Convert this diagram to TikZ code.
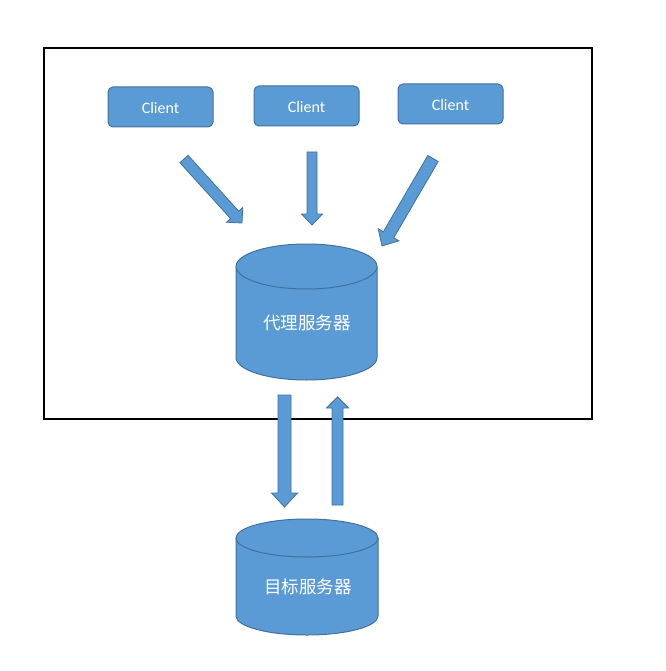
\documentclass[tikz,border=0pt]{standalone}
\usepackage{fontspec}
\setmainfont{Carlito}
\newfontfamily\cjk{Noto Sans CJK SC}
\usepackage{tikz}
\usetikzlibrary{calc,positioning}
\definecolor{boxblue}{RGB}{91,155,213}
\definecolor{edgeblue}{RGB}{65,113,156}
\tikzstyle{client} = [rectangle, rounded corners=5pt, draw=edgeblue, line width=1pt, fill=boxblue, text=white, minimum width=105pt, minimum height=40pt, text height=14pt, text depth=0pt, font=\fontsize{16}{18}\selectfont]
\tikzstyle{dblabel} = [text=white, font=\cjk\fontsize{17.5}{20}\selectfont]
\tikzstyle{dbbody} = [draw=edgeblue, line width=1pt, fill=boxblue]
\tikzstyle{bigarrow} = [draw=edgeblue, line width=0.8pt, fill=boxblue, line join=miter]
\tikzstyle{frame} = [draw=black, line width=1.6pt]

% block arrow: tail, tip, shaft half width, head half width, head length
\newcommand{\blockarrow}[5]{%
  \path ($(#2)!#5!(#1)$) coordinate (hb);
  \path[bigarrow] ($(#1)!#3!-90:(#2)$) -- ($(hb)!#3!90:(#1)$) -- ($(hb)!#4!90:(#1)$) -- (#2)
    -- ($(hb)!#4!-90:(#1)$) -- ($(hb)!#3!-90:(#1)$) -- ($(#1)!#3!90:(#2)$) -- cycle;
}

\begin{document}
\begin{tikzpicture}[x=1pt, y=-1pt]
\useasboundingbox (0,0) rectangle (665,671);

% frame =============================
\path[frame] (44,48) rectangle (592,419);

% clients
\node[client] (client1) at (160.5,107) {Client};
\node[client] (client2) at (306.5,106) {Client};
\node[client] (client3) at (450.5,104) {Client};

% proxy server
\path[dbbody] (236,266.5) -- (236,357.5) arc[start angle=180, end angle=360, x radius=70.5pt, y radius=22.5pt]
  -- (377,266.5) arc[start angle=0, end angle=180, x radius=70.5pt, y radius=22.5pt] -- cycle;
\path[dbbody] (236,266.5) arc[start angle=180, end angle=360, x radius=70.5pt, y radius=22.5pt];
\node[dblabel] (proxy) at (307,323) {代理服务器};

% target server
\path[dbbody] (236,538) -- (236,616) arc[start angle=180, end angle=360, x radius=71pt, y radius=19pt]
  -- (378,538) arc[start angle=0, end angle=180, x radius=71pt, y radius=19pt] -- cycle;
\path[dbbody] (236,538) arc[start angle=180, end angle=360, x radius=71pt, y radius=19pt];
\node[dblabel] (target) at (308,587) {目标服务器};

% arrow ends
\coordinate (t1) at (184,159);
\coordinate (h1) at (242,223);
\coordinate (t2) at (312,152);
\coordinate (h2) at (312,225);
\coordinate (t3) at (433,158.5);
\coordinate (h3) at (382,246);
\coordinate (t4) at (284.5,395);
\coordinate (h4) at (284.5,507);
\coordinate (t5) at (337.5,505);
\coordinate (h5) at (337.5,397);

%edges
\blockarrow{t1}{h1}{5.5pt}{11pt}{11pt}
\blockarrow{t2}{h2}{5pt}{10.5pt}{11pt}
\blockarrow{t3}{h3}{6pt}{12pt}{13pt}
\blockarrow{t4}{h4}{6.5pt}{13pt}{14pt}
\blockarrow{t5}{h5}{5.5pt}{11pt}{11pt}

\end{tikzpicture}
\end{document}
